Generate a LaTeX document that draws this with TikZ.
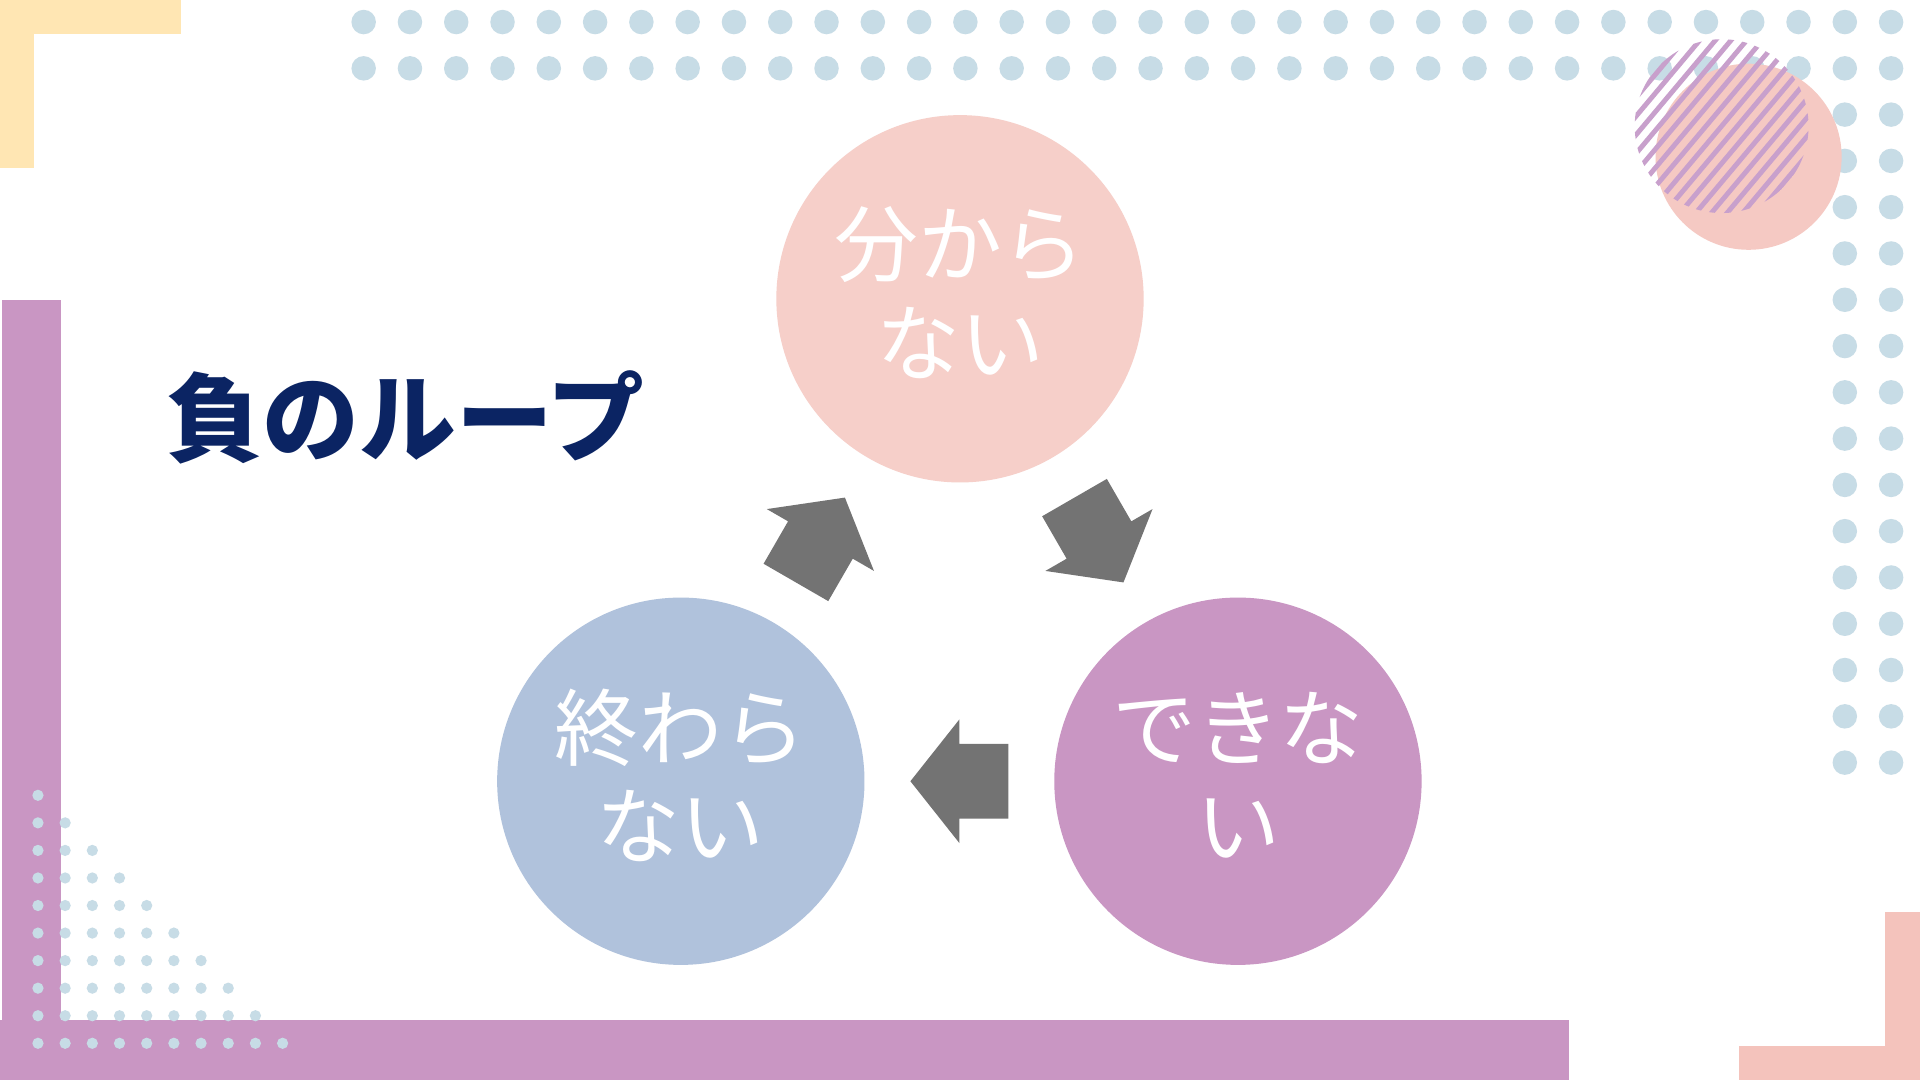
\documentclass[tikz,border=0pt]{standalone}
\usepackage{fontspec}
\newfontfamily\jp{Noto Sans CJK JP}
\usetikzlibrary{calc}

\definecolor{sand}{HTML}{FFE6B3}
\definecolor{dotblue}{HTML}{C7DCE6}
\definecolor{lilac}{HTML}{C996C3}
\definecolor{rosebar}{HTML}{F4C3BC}
\definecolor{rose}{HTML}{F6CFC9}
\definecolor{smallrose}{HTML}{F5C9C3}
\definecolor{bluegray}{HTML}{B0C2DC}
\definecolor{arrowgray}{HTML}{737373}
\definecolor{navy}{HTML}{0B2463}
\definecolor{hatchpurple}{HTML}{C8A0CC}

\begin{document}
\begin{tikzpicture}[x=0.1mm,y=-0.1mm,
  pdot/.style={fill=dotblue},
  bubble/.style={circle,minimum size=30mm,inner sep=0pt},
  bubbletext/.style={text=white,align=center,
    font=\jp\fontsize{19.5pt}{22.8pt}\selectfont},
  headline/.style={text=navy,font=\jp\bfseries\fontsize{22.5pt}{27pt}\selectfont},
  hatch/.style={draw=hatchpurple,line width=0.4mm},
  loop arrow/.pic={
    \fill[arrowgray] (-40,-30.5) -- (0,-30.5) -- (0,-50.5) -- (40,0)
      -- (0,50.5) -- (0,30.5) -- (-40,30.5) -- cycle;
  }
]
\fill[white] (0,0) rectangle (1568,882);
\useasboundingbox (0,0) rectangle (1568,882);

%% Corner bars
\fill[sand] (0,0) rectangle (148,28);
\fill[sand] (0,0) rectangle (28,137);
\fill[lilac] (2,245) rectangle (50,882);
\fill[lilac] (0,833) rectangle (1281,882);
\fill[rosebar] (1539,745) rectangle (1568,882);
\fill[rosebar] (1420,854) rectangle (1568,882);

%% Dots
\foreach \i in {0,...,33}
  \foreach \j in {0,1}
    \fill[pdot] (297+37.8*\i,18+37.8*\j) circle (10);
\foreach \i in {32,33}
  \foreach \j in {2,...,16}
    \fill[pdot] (297+37.8*\i,18+37.8*\j) circle (10);
\foreach \j in {0,...,9}
  \foreach \i in {0,...,\j}
    \fill[pdot] (31+22.2*\i,649.5+22.5*\j) circle (4.6);

%% Pink circle with stripes
\fill[smallrose] (1428,128) circle (76);
\begin{scope}
  \clip (1406,103) circle (71);
  \foreach \k in {-7,...,7}
    \draw[hatch] (1406+7.5*\k-52,103+6.3*\k+62) -- (1406+7.5*\k+52,103+6.3*\k-62);
\end{scope}

%% Loop
\node[bubble,fill=rose] (wakaranai) at (784,244) {};
\node[bubble,fill=bluegray] (owaranai) at (556,638) {};
\node[bubble,fill=lilac] (dekinai) at (1011,638) {};
\node[bubbletext] at ([yshift=0.5mm]wakaranai.center) {分から\\ない};
\node[bubbletext] at ([yshift=0.5mm]owaranai.center) {終わら\\ない};
\node[bubbletext] at ([yshift=0.5mm]dekinai.center) {できな\\い};

%% Arrows
\path ($(wakaranai)!0.5!(dekinai)$) pic[rotate=-60] {loop arrow};
\path ($(dekinai)!0.5!(owaranai)$) pic[rotate=180] {loop arrow};
\path ($(owaranai)!0.5!(wakaranai)$) pic[rotate=60] {loop arrow};

\node[headline] (title) at (331,341) {負のループ};
\end{tikzpicture}
\end{document}
